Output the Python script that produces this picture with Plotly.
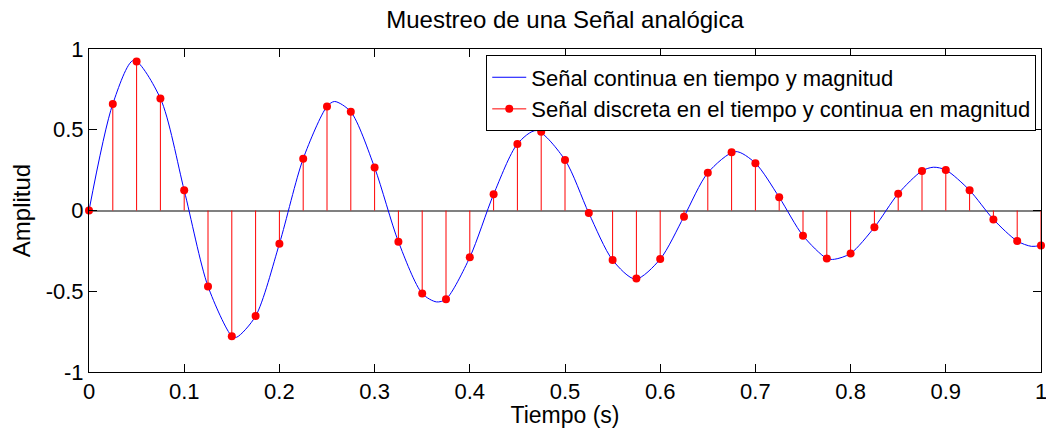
import plotly.graph_objects as go

# Sampled signal: 41 samples, Ts = 0.025 s
t_muestras = [i * 0.025 for i in range(41)]
y_muestras = [0.0, 0.66, 0.923, 0.694, 0.125, -0.47, -0.778, -0.654, -0.206, 0.321,
              0.644, 0.611, 0.266, -0.193, -0.514, -0.549, -0.29, 0.10, 0.412, 0.487,
              0.313, -0.016, -0.307, -0.421, -0.301, -0.038, 0.233, 0.361, 0.293, 0.082,
              -0.156, -0.297, -0.266, -0.104, 0.104, 0.245, 0.251, 0.125, -0.055, -0.189,
              -0.216]

# Continuous signal points (samples plus peaks and troughs)
t_continua = [0.0, 0.025, 0.047, 0.075, 0.1, 0.125, 0.15, 0.155, 0.175, 0.2,
              0.225, 0.25, 0.258, 0.275, 0.3, 0.325, 0.35, 0.365, 0.375, 0.4,
              0.425, 0.45, 0.47, 0.5, 0.525, 0.55, 0.574, 0.6, 0.625, 0.65,
              0.679, 0.7, 0.725, 0.75, 0.775, 0.783, 0.8, 0.825, 0.85, 0.875,
              0.887, 0.9, 0.925, 0.95, 0.975, 0.99, 1.0]
y_continua = [0.0, 0.66, 0.93, 0.694, 0.125, -0.47, -0.778, -0.785, -0.654, -0.206,
              0.321, 0.644, 0.675, 0.611, 0.266, -0.193, -0.514, -0.566, -0.549, -0.29,
              0.10, 0.412, 0.495, 0.313, -0.016, -0.307, -0.425, -0.301, -0.038, 0.233,
              0.365, 0.293, 0.082, -0.156, -0.297, -0.302, -0.266, -0.104, 0.104, 0.245,
              0.268, 0.251, 0.125, -0.055, -0.189, -0.222, -0.216]

x_ticks = [0, 0.1, 0.2, 0.3, 0.4, 0.5, 0.6, 0.7, 0.8, 0.9, 1]
x_tick_labels = ["0", "0.1", "0.2", "0.3", "0.4", "0.5", "0.6", "0.7", "0.8", "0.9", "1"]
y_ticks = [-1, -0.5, 0, 0.5, 1]
y_tick_labels = ["-1", "-0.5", "0", "0.5", "1"]

FONT = "Liberation Sans, Arial, sans-serif"
ROJO = "#ff0000"
AZUL = "#0000ff"

# Stem lines from the baseline to each sample
stem_x, stem_y = [], []
for t, v in zip(t_muestras, y_muestras):
    stem_x += [t, t, None]
    stem_y += [0, v, None]

fig = go.Figure()

fig.add_trace(go.Scatter(
    x=t_continua, y=y_continua, mode="lines",
    line=dict(color=AZUL, width=1, shape="spline", smoothing=0.8),
    name="Señal continua en tiempo y magnitud",
))

fig.add_trace(go.Scatter(
    x=stem_x, y=stem_y, mode="lines",
    line=dict(color=ROJO, width=1),
    showlegend=False, hoverinfo="skip", cliponaxis=False,
))

fig.add_trace(go.Scatter(
    x=t_muestras, y=y_muestras, mode="markers",
    marker=dict(color=ROJO, size=8),
    showlegend=False, cliponaxis=False,
))

# Legend entry for the discrete signal (line + dot)
fig.add_trace(go.Scatter(
    x=[None], y=[None], mode="lines+markers",
    line=dict(color=ROJO, width=1),
    marker=dict(color=ROJO, size=8),
    name="Señal discreta en el tiempo y continua en magnitud",
))

fig.update_layout(
    width=1046, height=428,
    margin=dict(l=89, r=5, t=49, b=56, autoexpand=False),
    paper_bgcolor="white", plot_bgcolor="white",
    font=dict(family=FONT, size=22, color="black"),
    title=dict(text="Muestreo de una Señal analógica", x=0.5 + (89 - 5) / 2 / 1046,
               xanchor="center", y=1 - 20 / 428, yanchor="middle",
               font=dict(size=24)),
    legend=dict(
        x=0.995, y=0.98, xanchor="right", yanchor="top",
        bgcolor="white", bordercolor="black", borderwidth=1,
        font=dict(size=22), tracegroupgap=0, itemwidth=34,
    ),
    showlegend=True,
)

fig.update_xaxes(
    range=[0, 1], tickvals=x_ticks, ticktext=x_tick_labels,
    showline=True, linecolor="black", linewidth=1, mirror="ticks",
    ticks="inside", ticklen=8, tickcolor="black", showgrid=False, zeroline=False,
    ticklabeloverflow="allow", automargin=False,
    title=dict(text="Tiempo (s)", standoff=3, font=dict(size=23)),
    tickfont=dict(size=22),
)
fig.update_yaxes(
    range=[-1, 1], tickvals=y_ticks, ticktext=y_tick_labels,
    showline=True, linecolor="black", linewidth=1, mirror="ticks",
    ticks="inside", ticklen=8, tickcolor="black", showgrid=False,
    zeroline=True, zerolinecolor="#808080", zerolinewidth=1.5,
    ticklabeloverflow="allow", automargin=False,
    title=dict(text="Amplitud", standoff=8, font=dict(size=24)),
    tickfont=dict(size=22),
)

fig.write_html("out.html")
